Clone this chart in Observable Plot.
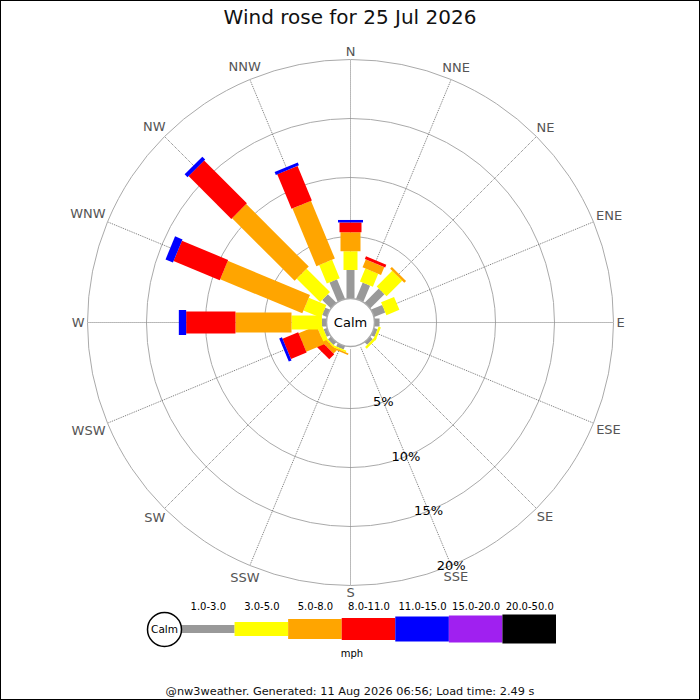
<!DOCTYPE html>
<html>
<head>
<meta charset="utf-8">
<script src="https://cdn.jsdelivr.net/npm/d3@7"></script>
<script src="https://cdn.jsdelivr.net/npm/@observablehq/plot@0.6"></script>
<style>
body { margin: 0; background: white; font-family: "DejaVu Sans", sans-serif; }
#page { position: relative; width: 700px; height: 700px; overflow: hidden; background: white; }
#title { position: absolute; top: 5px; left: 0; width: 700px; text-align: center; font-size: 20px; color: #111; }
#rose { position: absolute; top: 35px; left: 0; }
#legend { position: absolute; top: 598px; left: 0; }
#footer { position: absolute; top: 685px; left: 0; width: 700px; text-align: center; font-size: 11.3px; color: #111; }
#border { position: absolute; left: 0; top: 0; width: 698px; height: 698px; border: 1px solid black; pointer-events: none; }
</style>
</head>
<body>
<div id="page">
  <div id="title">Wind rose for 25 Jul 2026</div>
  <div id="rose"></div>
  <div id="legend"></div>
  <div id="footer">@nw3weather. Generated: 11 Aug 2026 06:56; Load time: 2.49 s</div>
  <div id="border"></div>
</div>
<script>
// directions, clockwise from north
const directions = ["N","NNE","NE","ENE","E","ESE","SE","SSE","S","SSW","SW","WSW","W","WNW","NW","NNW"]
const speedBins = ["1.0-3.0","3.0-5.0","5.0-8.0","8.0-11.0","11.0-15.0","15.0-20.0","20.0-50.0"]

// % of time per direction, one array per speed bin (mph)
const bin1to3   = [2.16, 1.23, 1.44, 0.76, 0.17, 0.05, 0.05, 0, 0, 0.05, 0.08, 0.04, 0.13, 0.17, 0.76, 1.53]
const bin3to5   = [1.59, 1.19, 1.87, 1.19, 0, 0.20, 0.20, 0, 0, 0.15, 0.13, 0.43, 2.58, 1.61, 2.80, 1.69]
const bin5to8   = [1.61, 0.72, 0.21, 0, 0, 0, 0, 0, 0, 0.13, 0.38, 1.65, 4.75, 7.54, 7.50, 5.30]
const bin8to11  = [0.83, 0.25, 0, 0, 0, 0, 0, 0, 0, 0, 0.60, 1.44, 4.18, 4.24, 5.13, 3.17]
const bin11to15 = [0.21, 0, 0, 0, 0, 0, 0, 0, 0, 0, 0, 0.25, 0.62, 0.68, 0.34, 0.26]
const bin15to20 = [0, 0, 0, 0, 0, 0, 0, 0, 0, 0, 0, 0, 0, 0, 0, 0]
const bin20to50 = [0, 0, 0, 0, 0, 0, 0, 0, 0, 0, 0, 0, 0, 0, 0, 0]
const binValues = [bin1to3, bin3to5, bin5to8, bin8to11, bin11to15, bin15to20, bin20to50]

const ringPcts = [5, 10, 15, 20]

// styles
const binColors = ["#999999","#ffff00","#ffa500","#ff0000","#0000ff","#a020f0","#000000"]
const binWidths = [8, 14, 20, 22, 25, 27, 29]

// layout
const W = 700, H = 575
const mX = 87, mTop = 24, mBottom = 25
const radiusPx = (W - 2 * mX) / 2          // outer ring in px
const hole = 2.29                          // % offset for the calm circle
const R = hole + ringPcts[ringPcts.length - 1]
const k = radiusPx / R                     // px per % unit
const calmR = 24 / k                       // calm disc radius in % units

const rad = i => i * Math.PI / 8
const px = (r, i) => r * Math.sin(rad(i))
const py = (r, i) => r * Math.cos(rad(i))

// stacked segments, inside out, direction by direction
let segments = []
directions.forEach((dir, i) => {
    let cum = 0
    binValues.forEach((vals, j) => {
        let v = vals[i]
        if (v <= 0) return
        let r0 = cum === 0 ? calmR : hole + cum
        cum += v
        let r1 = hole + cum
        segments.push({dir, r0, r1, i, color: binColors[j], width: binWidths[j]})
    })
})

// compass label radius grows with the text size along its direction
const ctx = document.createElement("canvas").getContext("2d")
ctx.font = "13px 'DejaVu Sans'"
const labelPos = directions.map((d, i) => {
    let w = ctx.measureText(d).width
    let extra = Math.abs(Math.sin(rad(i))) * w / 2 + Math.abs(Math.cos(rad(i))) * 4.8
    let r = (radiusPx + 3 + extra) / k
    return {d, x: px(r, i), y: py(r, i)}
})

const sse = directions.indexOf("SSE")

let rose = Plot.plot({
    width: W,
    height: H,
    marginTop: mTop,
    marginBottom: mBottom,
    marginLeft: mX,
    marginRight: mX,
    x: {domain: [-R, R], axis: null},
    y: {domain: [-R, R], axis: null},
    r: {type: "linear", domain: [0, R], range: [0, radiusPx]},
    style: {fontFamily: "DejaVu Sans", fontSize: "13px", background: "transparent", overflow: "visible"},
    marks: [
        Plot.dot(ringPcts, {x: 0, y: 0, r: d => hole + d, stroke: "#aaaaaa", fill: "none", strokeWidth: 1}),
        Plot.link(directions, {
            x1: (d, i) => px(hole, i), y1: (d, i) => py(hole, i),
            x2: (d, i) => px(R, i), y2: (d, i) => py(R, i),
            stroke: "#777", strokeWidth: 1, strokeDasharray: "1,1"
        }),
        Plot.link(segments, {
            x1: d => px(d.r0, d.i), y1: d => py(d.r0, d.i),
            x2: d => px(d.r1, d.i), y2: d => py(d.r1, d.i),
            stroke: d => d.color, strokeWidth: d => d.width, strokeLinecap: "butt"
        }),
        Plot.dot(["Calm"], {x: 0, y: 0, r: () => calmR, fill: "white", stroke: "#aaaaaa"}),
        Plot.text(["Calm"], {x: 0, y: 0, text: d => d, fill: "black", fontSize: 13}),
        Plot.text(ringPcts, {
            x: d => px(hole + d, sse), y: d => py(hole + d, sse),
            text: d => d + "%", fill: "black", fontSize: 13
        }),
        Plot.text(labelPos, {x: "x", y: "y", text: "d", fill: "#555", fontSize: 13})
    ]
})
d3.select("#rose").append(() => rose)

// legend
const legX0 = 181, legX1 = 556, legH = 62
const unitPx = (legX1 - legX0) / speedBins.length
const legCalmR = 17

let legend = Plot.plot({
    width: W,
    height: legH,
    marginTop: 0,
    marginBottom: 0,
    marginLeft: legX0,
    marginRight: W - legX1,
    x: {domain: [0, speedBins.length], axis: null},
    y: {domain: [-legH / 2, legH / 2], axis: null},
    style: {fontFamily: "DejaVu Sans", background: "transparent", overflow: "visible"},
    marks: [
        Plot.rect(speedBins, {
            x1: (d, i) => i, x2: (d, i) => i + 1,
            y1: (d, i) => -binWidths[i] / 2, y2: (d, i) => binWidths[i] / 2,
            fill: (d, i) => binColors[i]
        }),
        Plot.text(speedBins, {x: (d, i) => i + 0.5, y: 22.3, text: d => d, fill: "black", fontSize: 10}),
        Plot.dot(["Calm"], {x: -legCalmR / unitPx, y: 0, r: legCalmR, fill: "white", stroke: "black"}),
        Plot.text(["Calm"], {x: -legCalmR / unitPx, y: 0, text: d => d, fill: "black", fontSize: 10.5}),
        Plot.text(["mph"], {x: (speedBins.length - 2 * legCalmR / unitPx) / 2, y: -24.3, text: d => d, fill: "black", fontSize: 10})
    ]
})
d3.select("#legend").append(() => legend)
</script>
</body>
</html>
